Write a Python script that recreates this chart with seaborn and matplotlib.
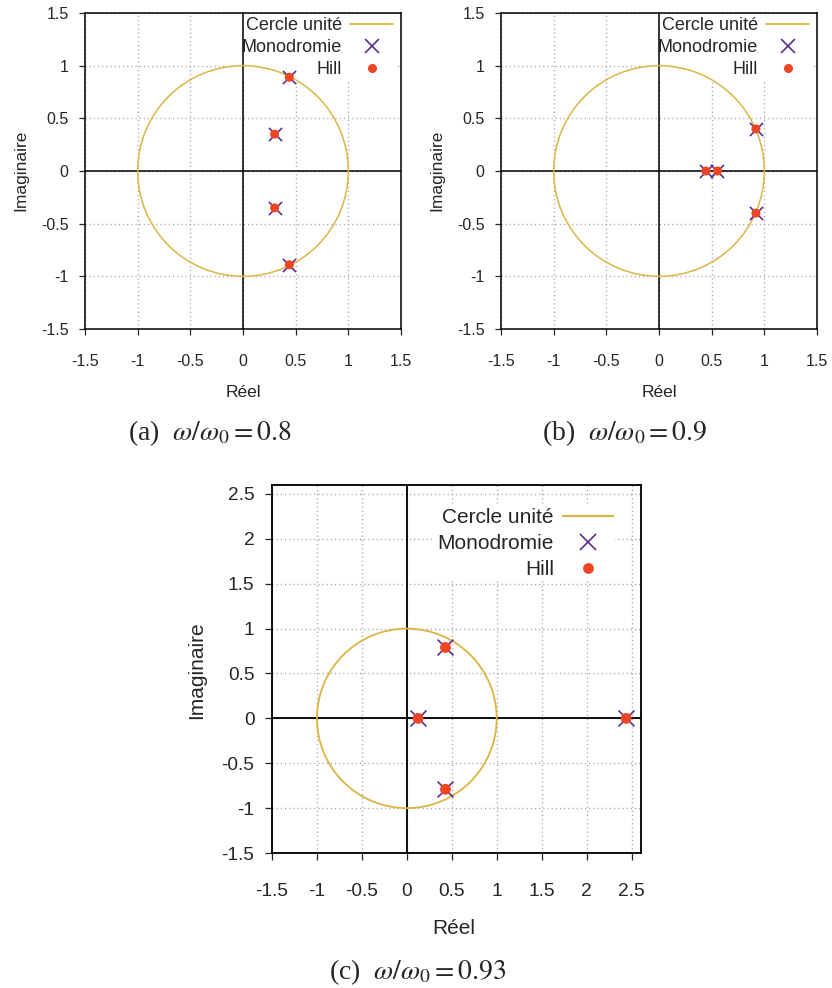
import numpy as np
import pandas as pd
import seaborn as sns
import matplotlib as mpl
import matplotlib.pyplot as plt
from matplotlib.patches import Circle
from matplotlib.lines import Line2D

# multiplier values (monodromy and Hill coincide)
a_re = [0.44, 0.30, 0.30, 0.44]
a_im = [0.89, 0.35, -0.35, -0.89]
b_re = [0.445, 0.555, 0.92, 0.92]
b_im = [0.0, 0.0, 0.40, -0.40]
c_re = [0.125, 0.43, 0.43, 2.44]
c_im = [0.0, 0.79, -0.79, 0.0]

ticks_ab = [-1.5, -1, -0.5, 0, 0.5, 1, 1.5]
ticks_c = [-1.5, -1, -0.5, 0, 0.5, 1, 1.5, 2, 2.5]
labels = ['Cercle unité', 'Monodromie', 'Hill']
captions = [r"(a)  $\omega/\omega_0 = 0.8$",
            r"(b)  $\omega/\omega_0 = 0.9$",
            r"(c)  $\omega/\omega_0 = 0.93$"]

col_circ = '#DDB545'
col_mono = '#5D2E8C'
col_hill = '#EE4524'

sns.set_style('white')
plt.rcParams['font.family'] = ['Liberation Sans', 'DejaVu Sans']
plt.rcParams['axes.unicode_minus'] = False
plt.rcParams['mathtext.fontset'] = 'stix'


def fmt(v):
    return '%g' % v


def panel(ax, re, im, ticks, lim, k, legfs, ls):
    df = pd.DataFrame({'re': re, 'im': im})
    ax.set_xlim(*lim)
    ax.set_ylim(*lim)
    ax.set_xticks(ticks)
    ax.set_yticks(ticks)
    ax.set_xticklabels([fmt(t) for t in ticks])
    ax.set_yticklabels([fmt(t) for t in ticks])
    ax.grid(True, color='#a0a0a0', linestyle=(0, (0.8, 2.2)), linewidth=1.0)
    ax.set_axisbelow(True)
    for s in ax.spines.values():
        s.set_linewidth(1.1 * k)
        s.set_color('black')
    ax.tick_params(axis='both', direction='out', length=4.3 * k, width=0.9,
                   labelsize=11.5 * k, bottom=True, left=True, top=False, right=False)
    ax.tick_params(axis='x', pad=13.5 * k)
    ax.tick_params(axis='y', pad=7.5)
    ax.axhline(0, color='black', lw=1.1 * k, zorder=2)
    ax.axvline(0, color='black', lw=1.1 * k, zorder=2)
    ax.add_patch(Circle((0, 0), 1, fill=False, color=col_circ, lw=1.1 * k, zorder=3))
    sns.scatterplot(data=df, x='re', y='im', marker='x', s=(9.5 * k) ** 2,
                    color=col_mono, linewidth=1.2, ax=ax, zorder=4)
    sns.scatterplot(data=df, x='re', y='im', marker='o', s=(6.5 * k) ** 2,
                    color=col_hill, edgecolor='none', ax=ax, zorder=5)
    ax.set_xlabel('Réel', fontsize=12.5 * k, va='center', ha='center')
    ax.set_ylabel('Imaginaire', fontsize=12.5 * k, va='center', ha='center')
    handles = [Line2D([], [], color=col_circ, lw=1.3 * k),
               Line2D([], [], color=col_mono, marker='x', ls='none',
                      markersize=9.5 * k, markeredgewidth=1.2),
               Line2D([], [], color=col_hill, marker='o', ls='none',
                      markersize=6.5 * k, markeredgewidth=0)]
    leg = ax.legend(handles, labels,
                    markerfirst=False, fontsize=legfs, frameon=True,
                    facecolor='white', edgecolor='none', framealpha=1,
                    fancybox=False, borderpad=0.1, borderaxespad=0,
                    labelspacing=ls, handlelength=2.4, handletextpad=0.44,
                    loc='upper right')
    leg.set_zorder(1)
    return leg


fig = plt.figure(figsize=(8.32, 9.88), dpi=100)
W, H = 832, 988

ax1 = fig.add_axes([85 / W, 1 - 329 / H, 316 / W, 316 / H])
ax2 = fig.add_axes([501 / W, 1 - 329 / H, 316 / W, 316 / H])
ax3 = fig.add_axes([272 / W, 1 - 853 / H, 368.5 / W, 368 / H])

leg1 = panel(ax1, a_re, a_im, ticks_ab, (-1.5, 1.5), 1.0, 13, 0.29)
leg2 = panel(ax2, b_re, b_im, ticks_ab, (-1.5, 1.5), 1.0, 13, 0.29)
leg3 = panel(ax3, c_re, c_im, ticks_c, (-1.5, 2.6), 1.2, 15, 0.33)

for ax in (ax1, ax2):
    ax.xaxis.set_label_coords(0.5, -0.2025)
    ax.yaxis.set_label_coords(-0.2025, 0.503)
ax3.xaxis.set_label_coords(0.492, -0.206)
ax3.yaxis.set_label_coords(-0.204, 0.498)

leg1.set_bbox_to_anchor((0.981, 0.993), transform=ax1.transAxes)
leg2.set_bbox_to_anchor((0.981, 0.993), transform=ax2.transAxes)
leg3.set_bbox_to_anchor((0.931, 0.9425), transform=ax3.transAxes)

cap_pos = [(210, 433), (625, 433), (418, 972)]
for (x, y), txt in zip(cap_pos, captions):
    fig.text(x / W, 1 - y / H, txt, ha='center', va='center', fontsize=20,
             family=['Liberation Serif', 'DejaVu Serif'])

fig.savefig('out.png', dpi=100)
